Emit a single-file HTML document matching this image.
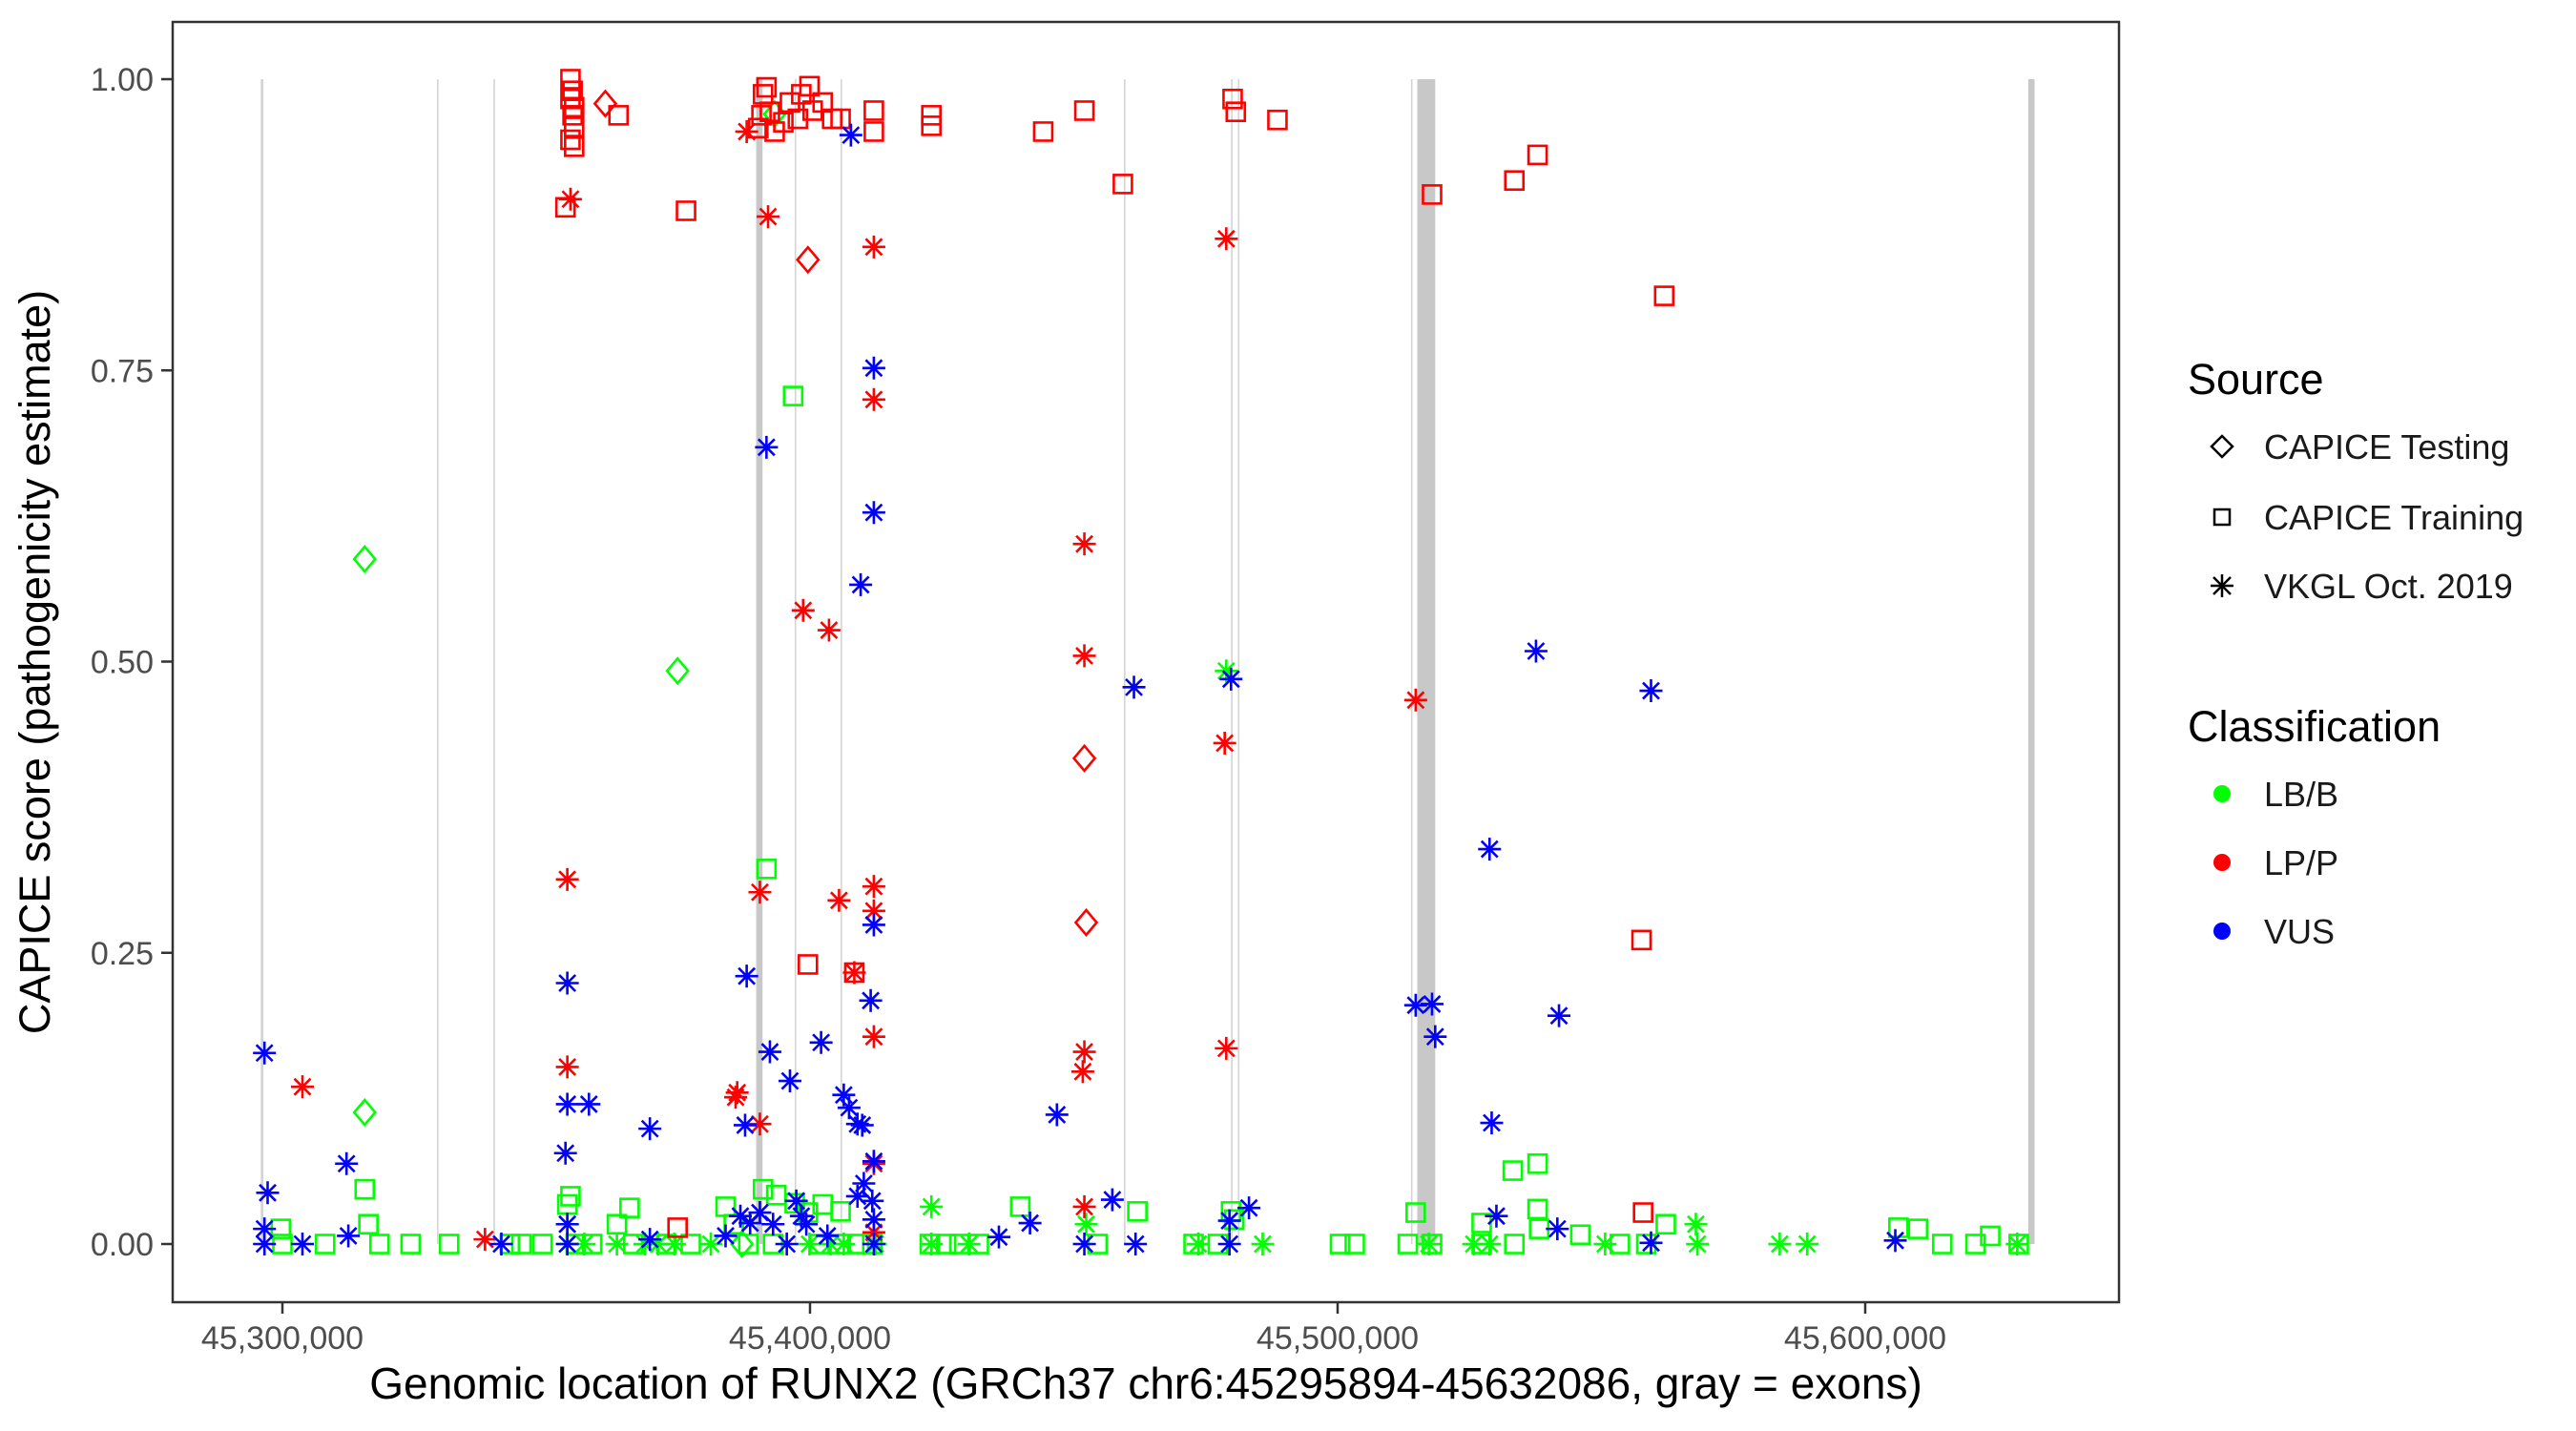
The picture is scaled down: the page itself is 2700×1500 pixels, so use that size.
<!DOCTYPE html>
<html><head><meta charset="utf-8"><style>
html,body{margin:0;padding:0;background:#fff;}
svg{display:block;font-family:"Liberation Sans",sans-serif;}
</style></head><body>
<svg id="chart" width="2700" height="1500" viewBox="0 0 2700 1500" xmlns="http://www.w3.org/2000/svg">
<rect x="0" y="0" width="2700" height="1500" fill="#fff"/>
<g id="exons"></g>
<g id="points"></g>
<rect x="181" y="23" width="2040" height="1342" fill="none" stroke="#333" stroke-width="2.5"/>
<g id="axes"></g>
<text x="1201" y="1466" font-size="46" text-anchor="middle" fill="#000">Genomic location of RUNX2 (GRCh37 chr6:45295894-45632086, gray = exons)</text>
<text transform="translate(52,694) rotate(-90)" font-size="45" text-anchor="middle" fill="#000">CAPICE score (pathogenicity estimate)</text>
<g>
<text x="2293" y="413" font-size="45" fill="#000">Source</text>
<path d="M2329,457 L2340,468 L2329,479 L2318,468 Z" fill="none" stroke="#000" stroke-width="2.5"/>
<text x="2373" y="481" font-size="36" fill="#1a1a1a">CAPICE Testing</text>
<rect x="2321" y="534" width="16" height="16" fill="none" stroke="#000" stroke-width="2.5"/>
<text x="2373" y="555" font-size="36" fill="#1a1a1a">CAPICE Training</text>
<g stroke="#000" stroke-width="2.5"><line x1="2329" y1="602" x2="2329" y2="626"/><line x1="2317" y1="614" x2="2341" y2="614"/><line x1="2320" y1="605" x2="2338" y2="623"/><line x1="2320" y1="623" x2="2338" y2="605"/></g>
<text x="2373" y="627" font-size="36" fill="#1a1a1a">VKGL Oct. 2019</text>
</g>
<g>
<text x="2293" y="777" font-size="45" fill="#000">Classification</text>
<circle cx="2329" cy="832" r="9" fill="#00ff00"/>
<text x="2373" y="845" font-size="36" fill="#1a1a1a">LB/B</text>
<circle cx="2329" cy="904" r="9" fill="#ff0000"/>
<text x="2373" y="917" font-size="36" fill="#1a1a1a">LP/P</text>
<circle cx="2329" cy="976" r="9" fill="#0000ff"/>
<text x="2373" y="989" font-size="36" fill="#1a1a1a">VUS</text>
</g>
</svg>
<script>
const xTicks = [45300000, 45400000, 45500000, 45600000];
const xTickLabels = ["45,300,000", "45,400,000", "45,500,000", "45,600,000"];
const yTicks = [0, 0.25, 0.5, 0.75, 1.0];
const yTickLabels = ["0.00", "0.25", "0.50", "0.75", "1.00"];
const exonStartKb = [45295.9, 45329.3, 45340.0, 45389.8, 45397.1, 45405.8, 45459.5, 45479.8, 45481.1, 45513.9, 45515.1, 45630.9];
const exonEndKb   = [45296.4, 45329.4, 45340.1, 45391.0, 45397.2, 45405.9, 45459.6, 45479.9, 45481.2, 45514.0, 45518.5, 45632.1];

const trainLP_pos = [45354.6,45354.6,45355.0,45355.3,45355.0,45355.3,45354.6,45355.3,45353.65,45363.7,45376.5,45390.2,45390.8,45391.1,45391.75,45392.4,45393.3,45394.95,45396.2,45397.7,45398.35,45399.9,45400.5,45402.4,45404.2,45405.8,45412.1,45412.1,45423.0,45423.0,45444.2,45452.0,45459.3,45480.1,45480.7,45488.6,45517.9,45533.5,45537.9,45561.9,45557.6,45408.4,45399.6,45374.9,45557.9];
const trainLP_score = [0.983,1.000,0.990,0.976,0.969,0.959,0.948,0.942,0.890,0.969,0.887,0.958,0.969,0.987,0.993,0.972,0.955,0.963,0.980,0.966,0.987,0.994,0.973,0.980,0.966,0.966,0.973,0.955,0.969,0.960,0.955,0.973,0.910,0.983,0.972,0.965,0.901,0.913,0.935,0.814,0.261,0.233,0.240,0.014,0.027];
const testLP_pos = [45361.2,45399.6,45452.0,45452.35];
const testLP_score = [0.979,0.845,0.417,0.276];
const vkglLP_pos = [45354.6,45388.0,45392.05,45412.1,45412.1,45452.0,45452.0,45398.7,45403.6,45478.9,45478.6,45514.8,45390.5,45386.2,45385.9,45390.5,45354.0,45354.0,45303.8,45405.5,45412.1,45412.1,45412.1,45452.0,45451.7,45452.0,45478.9,45338.4,45412.1,45412.1,45408.4];
const vkglLP_score = [0.897,0.955,0.882,0.856,0.725,0.601,0.505,0.544,0.527,0.863,0.430,0.467,0.302,0.130,0.126,0.103,0.313,0.152,0.135,0.295,0.307,0.286,0.178,0.165,0.148,0.032,0.168,0.004,0.069,0.010,0.233];
const vkglVUS_pos = [45407.75,45391.75,45412.1,45412.1,45409.6,45461.4,45479.8,45537.6,45559.4,45528.8,45514.8,45517.9,45518.5,45541.96,45529.2,45296.6,45297.2,45312.15,45354.0,45354.0,45358.1,45353.65,45369.65,45388.0,45392.4,45402.1,45396.2,45387.7,45406.4,45407.4,45409.0,45409.9,45412.1,45411.5,45446.8,45457.3,45441.7,45483.2,45479.5,45530.1,45541.65,45605.7,45559.4,45461.7,45341.5,45312.5,45303.8,45296.6,45296.6,45354.0,45354.0,45369.65,45384.0,45388.65,45390.5,45397.4,45398.35,45409.0,45410.2,45411.8,45412.1,45412.1,45412.1,45393.0,45395.6,45403.3,45435.8,45452.0,45479.5,45386.8,45399.3];
const vkglVUS_score = [0.952,0.684,0.752,0.628,0.566,0.478,0.485,0.509,0.475,0.339,0.205,0.206,0.178,0.196,0.104,0.164,0.044,0.069,0.224,0.120,0.120,0.078,0.099,0.230,0.165,0.173,0.140,0.102,0.128,0.117,0.103,0.102,0.274,0.209,0.111,0.038,0.018,0.031,0.020,0.024,0.013,0.003,0.001,0,0,0.007,0,0,0.013,0.017,0,0.004,0.007,0.018,0.027,0.037,0.024,0.041,0.052,0.037,0.071,0.021,0,0.017,0,0.007,0.006,0,0,0.024,0.017];
const trainLB_pos = [45391.75,45396.8,45315.6,45316.3,45299.7,45343.1,45324.3,45331.6,45345.3,45354.0,45354.6,45365.8,45363.4,45384.0,45385.55,45391.1,45393.6,45397.1,45399.6,45402.4,45405.8,45422.7,45428.3,45439.85,45462.05,45479.8,45480.4,45514.8,45527.3,45533.2,45537.9,45537.9,45546.0,45562.2,45606.3,45610.0,45623.7,45614.6,45620.9,45629.1,45533.5,45517.9,45503.25,45500.45,45472.7,45477.3,45454.5,45432.0,45425.8,45409.3,45401.8,45388.3,45377.4,45372.75,45358.7,45349.3,45308.1,45300.0,45318.4,45538.2,45558.5,45553.5,45355.6,45366.5,45393.0,45405.5,45411.8,45513.3,45527.3];
const trainLB_score = [0.322,0.728,0.047,0.017,0.013,0,0,0,0,0.034,0.041,0.031,0.017,0.032,0.017,0.047,0.042,0.035,0.027,0.034,0.028,0,0,0.032,0.028,0.028,0.021,0.027,0.018,0.063,0.069,0.030,0.008,0.017,0.014,0.013,0.007,0,0,0,0,0,0,0,0,0,0,0,0,0,0,0,0,0,0,0,0,0,0,0.013,0,0,0,0,0,0,0,0,0];
const testLB_pos = [45315.6,45374.9,45315.6,45393.3,45387.1];
const testLB_score = [0.588,0.492,0.113,0.970,0];
const vkglLB_pos = [45423.0,45478.9,45567.9,45568.2,45583.8,45589.0,45550.7,45485.8,45473.6,45430.15,45423.0,45381.2,45374.3,45354.0,45357.2,45371.2,45403.9,45406.4,45412.4,45517.3,45525.8,45528.8,45628.8,45452.35,45399.9,45363.4,45368.7,45354.0];
const vkglLB_score = [0.032,0.492,0.017,0,0,0,0,0,0,0,0,0,0,0,0,0,0,0,0,0,0,0,0,0.017,0,0,0,0.017];

const NS = "http://www.w3.org/2000/svg";
function xScale(bp){ return 296 + (bp - 45300000) * 553 / 100000; }
function yScale(v){ return 1304 - v * 1221; }
function kb(k){ return k * 1000; }
function mk(tag, attrs, parent){
  const el = document.createElementNS(NS, tag);
  for (const k in attrs) el.setAttribute(k, attrs[k]);
  parent.appendChild(el);
  return el;
}

const exG = document.getElementById("exons");
for (let i = 0; i < exonStartKb.length; i++){
  const x0 = xScale(kb(exonStartKb[i])), x1 = xScale(kb(exonEndKb[i]));
  const w = Math.max(x1 - x0, 1.6);
  const r = mk("rect", {x: x0, y: yScale(1), width: w, height: yScale(0) - yScale(1), fill: w > 3 ? "#c8c8c8" : "#d4d4d4"}, exG);
  
  
}

const axG = document.getElementById("axes");
const tickFont = '"Liberation Sans Narrow", "Liberation Sans", sans-serif';
for (let i = 0; i < xTicks.length; i++){
  const x = xScale(xTicks[i]);
  mk("line", {x1: x, x2: x, y1: 1365, y2: 1377, stroke: "#333", "stroke-width": 2.5}, axG);
  const t = mk("text", {x: x, y: 1414, "font-size": 34, "text-anchor": "middle", fill: "#4d4d4d", "font-family": tickFont}, axG);
  t.textContent = xTickLabels[i];
  
  
}
for (let i = 0; i < yTicks.length; i++){
  const y = yScale(yTicks[i]);
  mk("line", {x1: 169, x2: 181, y1: y, y2: y, stroke: "#333", "stroke-width": 2.5}, axG);
  const t = mk("text", {x: 161, y: y + 12, "font-size": 34, "text-anchor": "end", fill: "#4d4d4d", "font-family": tickFont}, axG);
  t.textContent = yTickLabels[i];
  
  
}

const ptG = document.getElementById("points");
function drawSquare(cx, cy, col){
  return mk("rect", {x: cx - 9.5, y: cy - 9.5, width: 19, height: 19, fill: "none", stroke: col, "stroke-width": 2.6}, ptG);
}
function drawDiamond(cx, cy, col){
  return mk("path", {d: `M${cx},${cy-13} L${cx+11},${cy} L${cx},${cy+13} L${cx-11},${cy} Z`, fill: "none", stroke: col, "stroke-width": 2.6}, ptG);
}
function drawStar(cx, cy, col){
  const r = 12, d = 8.5;
  return mk("path", {d: `M${cx},${cy-r}V${cy+r}M${cx-r},${cy}H${cx+r}M${cx-d},${cy-d}L${cx+d},${cy+d}M${cx-d},${cy+d}L${cx+d},${cy-d}`, fill: "none", stroke: col, "stroke-width": 2.6}, ptG);
}
function drawSeries(pos, score, fn, col, name){
  for (let i = 0; i < pos.length; i++){
    const el = fn(xScale(kb(pos[i])), yScale(score[i]), col);
    
    
  }
}
drawSeries(trainLB_pos, trainLB_score, drawSquare, "#00ff00", "point-training-lbb");
drawSeries(testLB_pos, testLB_score, drawDiamond, "#00ff00", "point-testing-lbb");
drawSeries(vkglLB_pos, vkglLB_score, drawStar, "#00ff00", "point-vkgl-lbb");
drawSeries(trainLP_pos, trainLP_score, drawSquare, "#ff0000", "point-training-lpp");
drawSeries(testLP_pos, testLP_score, drawDiamond, "#ff0000", "point-testing-lpp");
drawSeries(vkglLP_pos, vkglLP_score, drawStar, "#ff0000", "point-vkgl-lpp");
drawSeries(vkglVUS_pos, vkglVUS_score, drawStar, "#0000ff", "point-vkgl-vus");
</script>
</body></html>
